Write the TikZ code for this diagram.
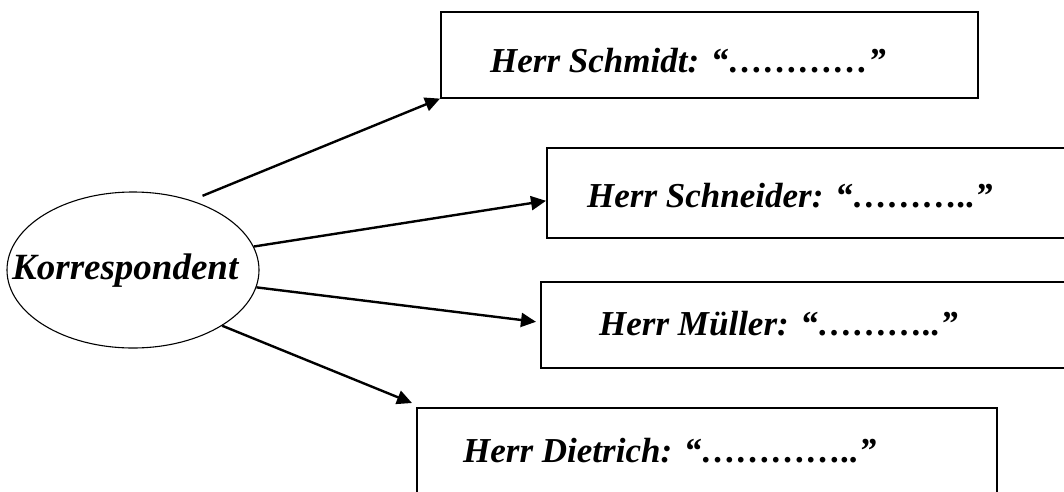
\documentclass[tikz,border=0pt]{standalone}
\usepackage{fontspec}
\setmainfont{Liberation Serif}
\usetikzlibrary{arrows.meta,shapes.geometric}
\begin{document}
\begin{tikzpicture}[x=1pt,y=-1pt,
  boxst/.style={draw,line width=1.6pt,rectangle,inner sep=0pt,anchor=north west},
  lbl/.style={inner sep=0pt,anchor=base west,font=\fontsize{35}{40}\selectfont\bfseries\itshape},
  conn/.style={line width=2.4pt,-{Triangle[length=15pt,width=14pt]}}]
\useasboundingbox (0,0) rectangle (1064,491);
\clip (0,0) rectangle (1064,491);
\node[draw,line width=1.1pt,ellipse,inner sep=0pt,minimum width=252pt,minimum height=156pt] (k) at (133,270) {};
\node[inner sep=0pt,anchor=base west,font=\fontsize{37}{42}\selectfont\bfseries\itshape] (kt) at (12,279) {Korrespondent};
\node[boxst,minimum width=537pt,minimum height=86pt] (b1) at (440,11) {};
\node[boxst,minimum width=535pt,minimum height=90pt] (b2) at (546,147) {};
\node[boxst,minimum width=540pt,minimum height=86pt] (b3) at (540,281) {};
\node[boxst,minimum width=580pt,minimum height=100pt] (b4) at (416,407) {};
\node[lbl] (t1) at (490,72) {Herr Schmidt: “…………”};
\node[lbl] (t2) at (587,207) {Herr Schneider: “………..”};
\node[lbl] (t3) at (599,335) {Herr Müller: “………..”};
\node[lbl] (t4) at (463,462) {Herr Dietrich: “…………..”};
\draw[conn,shorten <=12pt] (k.50) -- (b1.south west);
\draw[conn] (k.11) -- ([yshift=-8pt]b2.west);
\draw[conn] (k.-8) -- ([shift={(-4pt,3pt)}]b3.west);
\draw[conn] (k.-32) -- ([shift={(-4pt,4pt)}]b4.north west);
\end{tikzpicture}
\end{document}
